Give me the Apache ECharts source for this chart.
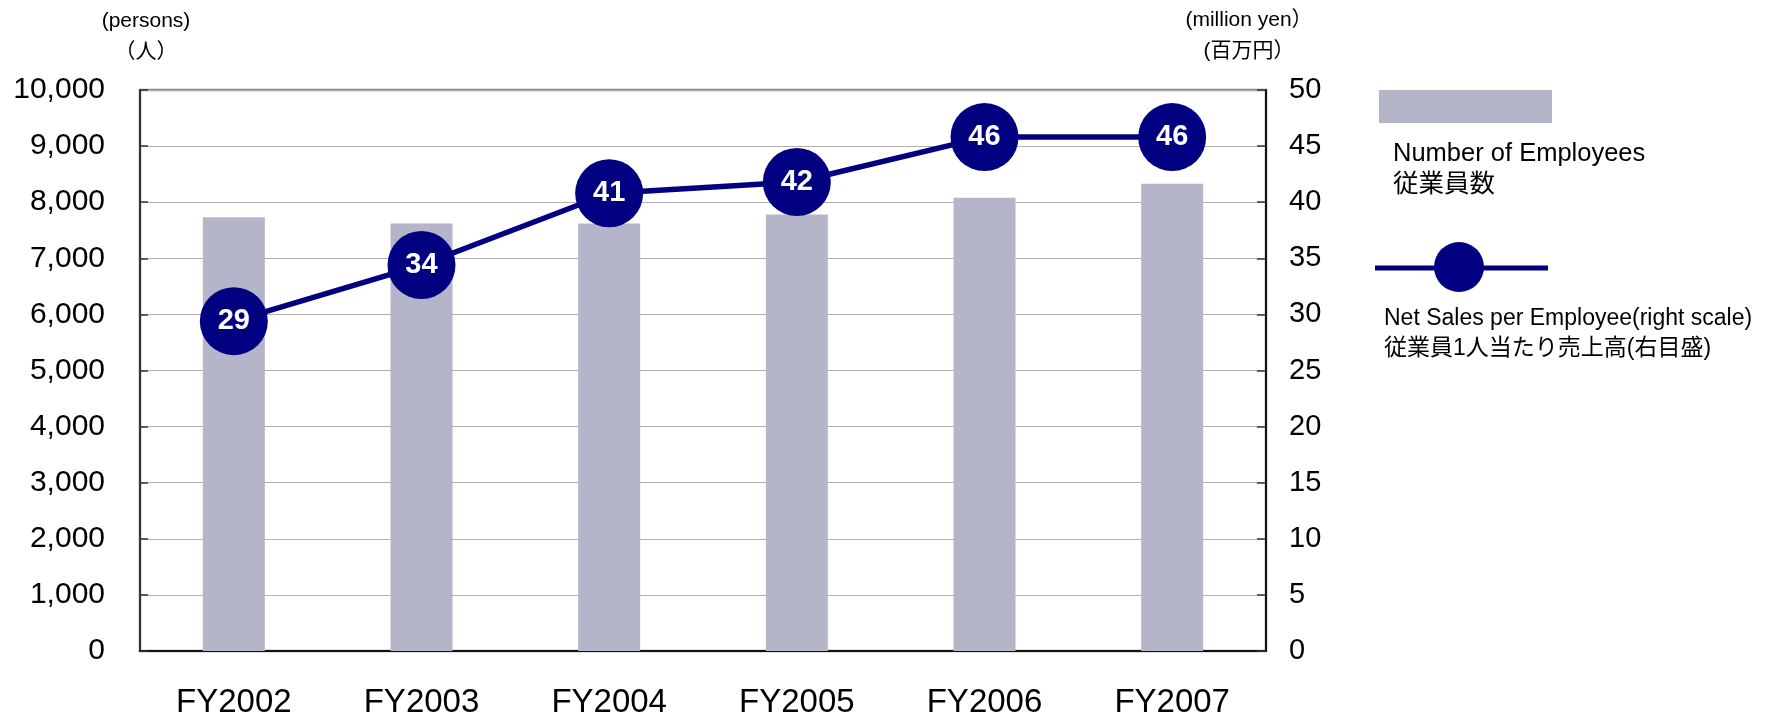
<!DOCTYPE html>
<html>
<head>
<meta charset="utf-8">
<script src="https://cdn.jsdelivr.net/npm/echarts@6/dist/echarts.min.js"></script>
<style>
html,body{margin:0;padding:0;background:#fff;}
#chart{width:1765px;height:719px;}
</style>
</head>
<body>
<div id="chart"></div>
<script>
// ---- data ----
const categories = ['FY2002', 'FY2003', 'FY2004', 'FY2005', 'FY2006', 'FY2007'];
const employees = [7730, 7620, 7620, 7780, 8080, 8330];          // persons (left scale)
const salesPerEmployee = [29.4, 34.4, 40.8, 41.8, 45.8, 45.8];   // million yen (right scale)
const leftUnit = ['(persons)', '（人）'];
const rightUnit = ['(million yen）', '(百万円）'];
const legendBar = ['Number of Employees', '従業員数'];
const legendLine = ['Net Sales per Employee(right scale)', '従業員1人当たり売上高(右目盛)'];

const FONT = '"Liberation Sans", Arial, "Noto Sans CJK JP", sans-serif';
const BAR = '#b4b5c9';
const NAVY = '#000080';

const chart = echarts.init(document.getElementById('chart'), null, {renderer: 'canvas'});

function txt(text, x, y, size, align, extra) {
  return Object.assign({
    type: 'text', x: x, y: y, z: 100,
    style: {text: text, fontSize: size, fontFamily: FONT, fill: '#000',
            align: align || 'left', verticalAlign: 'middle'}
  }, extra || {});
}

const option = {
  animation: false,
  backgroundColor: '#fff',
  grid: {left: 140, right: 499, top: 90, bottom: 65.7, show: true,
         borderColor: '#888', borderWidth: 2.5, backgroundColor: 'transparent'},
  xAxis: {
    type: 'category', data: categories,
    axisLine: {lineStyle: {color: '#111', width: 2}},
    axisTick: {inside: true, length: 12, lineStyle: {color: '#333', width: 1.5}},
    axisLabel: {margin: 35, fontSize: 33, color: '#000', fontFamily: FONT}
  },
  yAxis: [
    {
      type: 'value', min: 0, max: 10000, interval: 1000, position: 'left',
      axisLine: {show: true, lineStyle: {color: '#333', width: 2}},
      axisTick: {show: true, inside: true, length: 8, lineStyle: {color: '#333', width: 1.5}},
      axisLabel: {margin: 35, fontSize: 30, color: '#000', fontFamily: FONT,
                  formatter: v => v.toLocaleString('en-US')},
      splitLine: {show: true, lineStyle: {color: '#b0b0b0', width: 1}}
    },
    {
      type: 'value', min: 0, max: 50, interval: 5, position: 'right',
      axisLine: {show: true, lineStyle: {color: '#111', width: 2}},
      axisTick: {show: true, inside: true, length: 9, lineStyle: {color: '#333', width: 1.5}},
      axisLabel: {margin: 23, fontSize: 29, color: '#000', fontFamily: FONT},
      splitLine: {show: false}
    }
  ],
  series: [
    {
      name: 'Number of Employees', type: 'bar', yAxisIndex: 0, data: employees,
      barWidth: 62, itemStyle: {color: BAR}, z: 2
    },
    {
      name: 'Net Sales per Employee', type: 'line', yAxisIndex: 1, data: salesPerEmployee,
      symbol: 'circle', symbolSize: 68, z: 5,
      lineStyle: {color: NAVY, width: 5.5},
      itemStyle: {color: NAVY},
      label: {show: true, position: 'inside', color: '#fff', fontWeight: 'bold',
              fontSize: 29, fontFamily: FONT, formatter: p => Math.round(p.value)}
    }
  ],
  graphic: [
    txt(leftUnit[0], 146, 21, 21, 'center'),
    txt(leftUnit[1], 146, 52, 21, 'center'),
    txt(rightUnit[0], 1249, 20, 21, 'center'),
    txt(rightUnit[1], 1249, 51.5, 21, 'center'),
    {type: 'rect', z: 100, shape: {x: 1379, y: 90, width: 173, height: 33}, style: {fill: BAR}},
    txt(legendBar[0], 1393, 154, 25.5, 'left'),
    txt(legendBar[1], 1393, 185, 25.5, 'left'),
    {type: 'line', z: 100, shape: {x1: 1375, y1: 268, x2: 1548, y2: 268}, style: {stroke: NAVY, lineWidth: 5}},
    {type: 'circle', z: 101, shape: {cx: 1459, cy: 267, r: 25}, style: {fill: NAVY}},
    txt(legendLine[0], 1384, 319, 23, 'left'),
    txt(legendLine[1], 1384, 349, 23, 'left')
  ]
};
chart.setOption(option);
</script>
</body>
</html>
